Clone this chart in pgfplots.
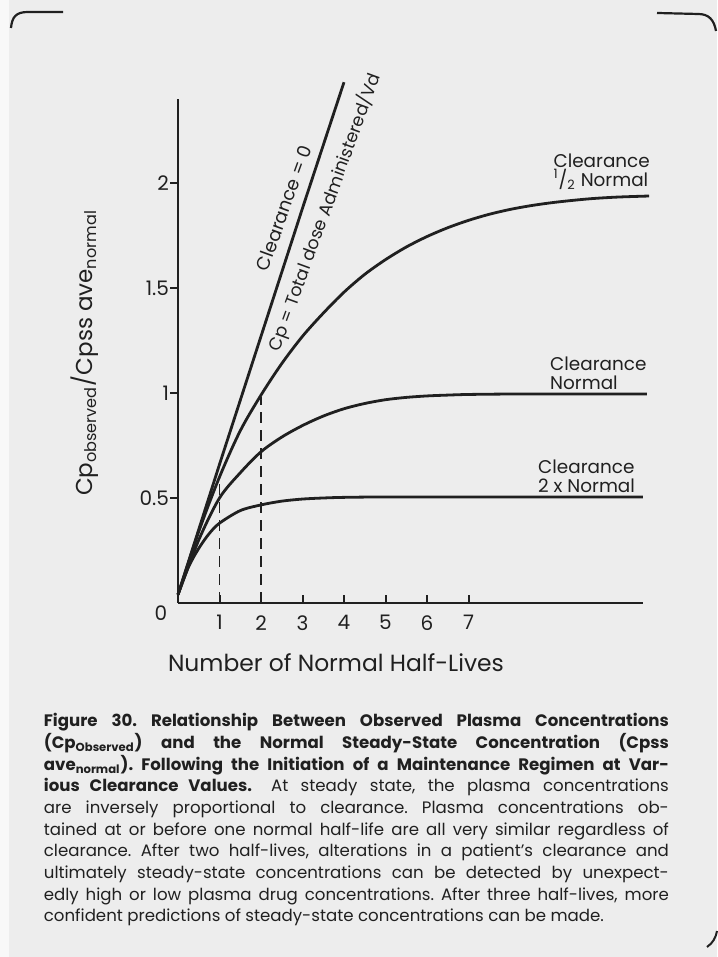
\documentclass[border=0pt]{standalone}
\usepackage{pgfplots}
\pgfplotsset{compat=1.18}
\usepackage{fontspec}
\setmainfont{Poppins}
\definecolor{ink}{HTML}{202020}
\definecolor{pagebg}{HTML}{EDEDED}
\newcommand{\capline}[1]{\makebox[312.5pt][s]{#1}}
\begin{document}
\frenchspacing
\begin{tikzpicture}
\useasboundingbox (0,0) rectangle (358.5pt,478.5pt);
\fill[pagebg] (0,0) rectangle (358.5pt,478.5pt);
\begin{scope}[x=0.5pt,y=0.5pt]
  \fill[white!60!pagebg] (0,0) rectangle (9,957);
  \draw[ink, line width=1.1pt] (63,945) -- (28,945) .. controls (16,945) and (12,940) .. (11,929);
  \draw[ink, line width=1.1pt] (657,944) -- (698,943) .. controls (709,943) and (714,937) .. (716,926);
  \draw[ink, line width=1pt] (707,10) .. controls (713,14) and (716,20) .. (717,26);
\end{scope}

\begin{axis}[
  anchor=origin, at={(89pt,177pt)},
  x=20.75pt, y=105pt,
  xmin=0, xmax=11.2, ymin=0, ymax=2.4,
  axis x line=bottom, axis y line=left,
  axis line style={-, line width=1.3pt, ink},
  xtick={1,2,3,4,5,6,7}, xticklabels={1,2,3,4,5,6,7},
  ytick={0.5,1,1.5,2}, yticklabels={0.5,1,1.5,2},
  xtick align=inside, ytick align=outside,
  major tick length=4pt,
  tick style={line width=1pt, ink},
  xticklabel style={font=\fontsize{10}{12}\selectfont, text=ink, yshift=-2.7pt},
  yticklabel style={font=\fontsize{10}{12}\selectfont, text=ink, xshift=3pt},
  clip=false,
]
% Clearance = 0
\addplot[ink, line width=1.4pt] coordinates {(0,0.04) (1,0.66) (2,1.27) (3,1.88) (4.0,2.48)};
% Clearance 1/2 normal
\addplot[ink, line width=1.4pt, smooth] coordinates {
(0,0.04) (0.5,0.34) (1,0.60) (1.5,0.82) (2,0.99) (2.5,1.14) (3,1.27) (3.5,1.38)
(4,1.48) (4.5,1.565) (5,1.635) (5.5,1.695) (6,1.745) (6.5,1.787) (7,1.822) (7.5,1.851)
(8,1.874) (8.5,1.892) (9,1.906) (9.5,1.917) (10,1.926) (10.6,1.933) (11.35,1.938)};
% Clearance normal
\addplot[ink, line width=1.4pt, smooth] coordinates {
(0,0.04) (0.5,0.30) (1,0.50) (1.5,0.62) (2,0.72) (2.5,0.79) (3,0.845) (3.5,0.89)
(4,0.925) (4.5,0.95) (5,0.968) (5.5,0.979) (6,0.986) (6.5,0.990) (7,0.993) (8,0.995) (9.5,0.995) (11.3,0.995)};
% Clearance 2x normal
\addplot[ink, line width=1.4pt, smooth] coordinates {
(0,0.04) (0.25,0.17) (0.5,0.26) (0.75,0.33) (1,0.38) (1.5,0.44) (2,0.467) (2.5,0.485)
(3,0.495) (3.5,0.50) (4,0.503) (5,0.505) (7,0.505) (9,0.505) (11.2,0.505)};
% dashed guides
\addplot[ink, line width=0.85pt, dash pattern=on 5.5pt off 3.5pt] coordinates {(1,0) (1,0.58)};
\addplot[ink, line width=0.85pt, dash pattern=on 5.5pt off 3.5pt] coordinates {(2,0) (2,0.98)};

\node[font=\fontsize{10}{12}\selectfont, text=ink] at (axis cs:0,0) [xshift=-8.5pt, yshift=-5pt] {0};

\node[font=\fontsize{9.2}{9.5}\selectfont, text=ink, rotate=70] at (axis cs:2.55,1.88) {Clearance = 0};
\node[font=\fontsize{8.8}{9.5}\selectfont, text=ink, rotate=70] at (axis cs:3.53,1.86) {Cp = Total dose Administered/Vd};

\node[font=\fontsize{9.2}{9.5}\selectfont, text=ink, align=left, anchor=west, inner sep=0] at (axis cs:9.04,2.055) {Clearance\\\textsuperscript{1}/\textsubscript{2} Normal};
\node[font=\fontsize{9.2}{9.5}\selectfont, text=ink, align=left, anchor=west, inner sep=0] at (axis cs:8.96,1.093) {Clearance\\Normal};
\node[font=\fontsize{9.2}{9.5}\selectfont, text=ink, align=left, anchor=west, inner sep=0] at (axis cs:8.67,0.603) {Clearance\\2 x Normal};
\end{axis}

\begin{scope}[x=0.5pt,y=0.5pt]
  \node[font=\fontsize{11.7}{13}\selectfont, text=ink] at (336,294) {Number of Normal Half-Lives};
  \node[font=\fontsize{11.5}{13}\selectfont, text=ink, rotate=90] at (85,604) {Cp\textsubscript{observed}/Cpss ave\textsubscript{normal}};
  \node[anchor=north west, inner sep=0, align=left, text=ink,
        font=\fontsize{8.3}{10.85}\selectfont] at (43.5,244) {%
  \capline{\bfseries Figure 30. Relationship Between Observed Plasma Concentrations}\\
  \capline{\bfseries (Cp\textsubscript{Observed}) and the Normal Steady-State Concentration (Cpss}\\
  \capline{\bfseries ave\textsubscript{normal}). Following the Initiation of a Maintenance Regimen at Var-}\\
  \capline{\textbf{ious Clearance Values.}\hspace{0.4em} At steady state, the plasma concentrations}\\
  \capline{are inversely proportional to clearance. Plasma concentrations ob-}\\
  \capline{tained at or before one normal half-life are all very similar regardless of}\\
  \capline{clearance. After two half-lives, alterations in a patient’s clearance and}\\
  \capline{ultimately steady-state concentrations can be detected by unexpect-}\\
  \capline{edly high or low plasma drug concentrations. After three half-lives, more}\\
  confident predictions of steady-state concentrations can be made.};
\end{scope}
\end{tikzpicture}
\end{document}
